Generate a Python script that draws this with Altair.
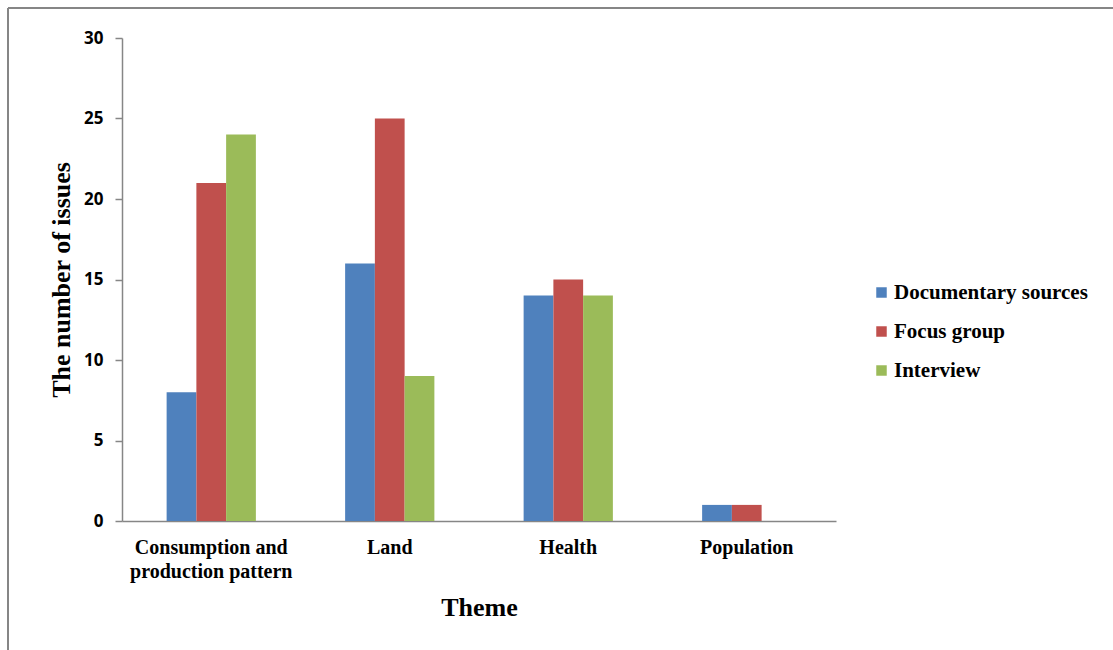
import altair as alt
import pandas as pd

themes = ["Consumption and production pattern", "Land", "Health", "Population"]
sources = ["Documentary sources", "Focus group", "Interview"]
documentary = [8, 16, 14, 1]
focus_group = [21, 25, 15, 1]
interview = [24, 9, 14, 0]
colors = ["#4F81BD", "#C0504D", "#9BBB59"]
y_ticks = [0, 5, 10, 15, 20, 25, 30]

rows = []
for series, vals in zip(sources, [documentary, focus_group, interview]):
    for theme, v in zip(themes, vals):
        rows.append({"Theme": theme, "Source": series, "Issues": v})
df = pd.DataFrame(rows)

serif = "Liberation Serif"
sans = "Open Sans"
grey = "#868686"

bars = alt.Chart(df).mark_bar().encode(
    x=alt.X(
        "Theme:N",
        sort=themes,
        scale=alt.Scale(paddingInner=0.5, paddingOuter=0.25),
        axis=alt.Axis(
            title="Theme",
            titleFont=serif, titleFontSize=26, titleFontWeight="bold",
            titleColor="black", titlePadding=13,
            labelFont=serif, labelFontSize=20, labelFontWeight="bold",
            labelColor="black", labelAngle=0, labelPadding=16,
            labelLineHeight=24, labelLimit=0,
            labelExpr="datum.value == 'Consumption and production pattern' ? ['Consumption and', 'production pattern'] : datum.value",
            ticks=False, domainColor=grey, domainWidth=1.5,
        ),
    ),
    xOffset=alt.XOffset("Source:N", sort=sources),
    y=alt.Y(
        "Issues:Q",
        scale=alt.Scale(domain=[0, 30], nice=False),
        axis=alt.Axis(
            title="The number of issues",
            titleFont=serif, titleFontSize=26, titleFontWeight="bold",
            titleColor="black", titlePadding=9,
            labelFont=sans, labelFontSize=17, labelFontWeight="bold",
            labelColor="black", labelPadding=12,
            values=y_ticks, grid=False,
            tickColor=grey, tickSize=7, tickWidth=1.5,
            domainColor=grey, domainWidth=1.5,
        ),
    ),
    color=alt.Color(
        "Source:N",
        sort=sources,
        scale=alt.Scale(domain=sources, range=colors),
        legend=alt.Legend(
            title=None, orient="none", legendX=749, legendY=244,
            symbolType="square", symbolSize=110, symbolStrokeWidth=0,
            labelFont=serif, labelFontSize=21, labelFontWeight="bold",
            labelColor="black", rowPadding=17, labelOffset=2, labelLimit=0,
        ),
    ),
)

# thin frame along the top and left of the figure
frame_top = alt.Chart(df).mark_rule(color=grey, strokeWidth=1.5).encode(
    x=alt.value(-114), x2=alt.value(991), y=alt.value(-30)
)
frame_left = alt.Chart(df).mark_rule(color=grey, strokeWidth=1.5).encode(
    x=alt.value(-114), y=alt.value(-30), y2=alt.value(612)
)

chart = alt.layer(bars, frame_top, frame_left).properties(
    width=714, height=483,
    autosize=alt.AutoSizeParams(type="none"),
    padding={"left": 122, "top": 38, "right": 277, "bottom": 129},
    background="white",
).configure_view(stroke=None)

chart.save("out.html", embed_options={"renderer": "svg", "actions": False})
